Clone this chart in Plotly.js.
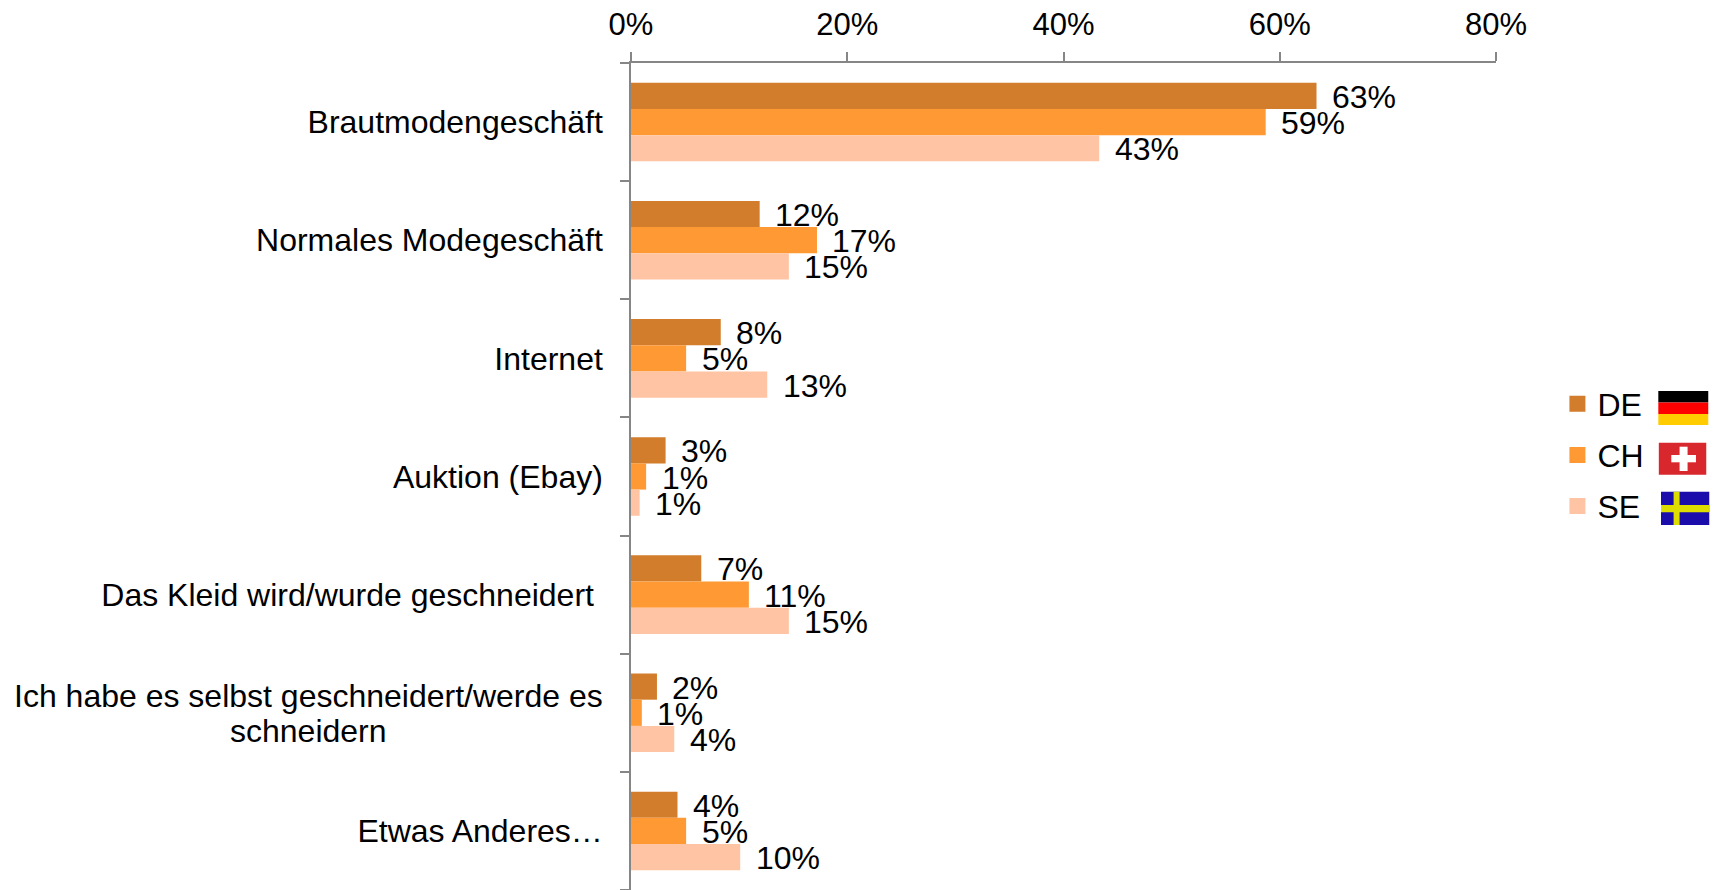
<!DOCTYPE html>
<html><head><meta charset="utf-8">
<script src="https://cdn.plot.ly/plotly-3.0.1.min.js"></script>
<style>html,body{margin:0;padding:0;background:#fff}</style></head><body>
<div id="c" style="width:1716px;height:890px"></div>
<script>
const categories=["Brautmodengeschäft","Normales Modegeschäft","Internet","Auktion (Ebay)","Das Kleid wird/wurde geschneidert","Ich habe es selbst geschneidert/werde es schneidern","Etwas Anderes…"];
const tickLabels=["Brautmodengeschäft","Normales Modegeschäft","Internet","Auktion (Ebay)","Das Kleid wird/wurde geschneidert\u00A0","\u00A0","Etwas Anderes…"];
const wrappedLines=["Ich habe es selbst geschneidert/werde es","schneidern"];
const de=[63.4,11.9,8.3,3.2,6.5,2.4,4.3];
const ch=[58.7,17.2,5.1,1.4,10.9,1.0,5.1];
const se=[43.3,14.6,12.6,0.8,14.6,4.0,10.1];
const deLabels=["63%","12%","8%","3%","7%","2%","4%"];
const chLabels=["59%","17%","5%","1%","11%","1%","5%"];
const seLabels=["43%","15%","13%","1%","15%","4%","10%"];
const seriesNames=["DE","CH","SE"];
const seriesColors=["#D27D2B","#FF9933","#FFC4A4"];
const seriesValues=[de,ch,se];
const seriesLabels=[deLabels,chLabels,seLabels];
const family="Liberation Sans, Arial, sans-serif";
const barWidth=0.2217;
const bars=seriesValues.map((x,i)=>({type:"bar",orientation:"h",name:seriesNames[i],y:categories,x,marker:{color:seriesColors[i]},width:barWidth,showlegend:false,hoverinfo:"x+name"}));
const keys=seriesNames.map((n,i)=>({type:"scatter",mode:"markers",name:n,x:[null],y:[null],legendgroup:n,marker:{symbol:"square",size:16,color:seriesColors[i]}}));
const W=1716,H=890,L=630.5,R=1496.5,T=63,B=890;
const px=v=>(v-L)/(R-L), py=v=>(B-v)/(B-T);
const annotations=[];
seriesValues.forEach((vals,s)=>vals.forEach((v,i)=>annotations.push({xref:"x",yref:"y",x:v,y:i+(s-1)*barWidth,text:seriesLabels[s][i],showarrow:false,xanchor:"left",yanchor:"middle",xshift:13.5,yshift:-1,font:{family,size:32,color:"#000"}})));
wrappedLines.forEach((t,k)=>annotations.push({xref:"paper",yref:"y",x:px(308),y:5,yshift:k?-18.5:16.5,text:t,showarrow:false,xanchor:"center",yanchor:"middle",font:{family,size:32,color:"#000"}}));
const rect=(x0,y0,x1,y1,c)=>({type:"rect",xref:"paper",yref:"paper",x0:px(x0+1),x1:px(x1+1),y0:py(y0),y1:py(y1),fillcolor:c,line:{width:0},layer:"above"});
const shapes=[
 rect(1658,391,1708,402.5,"#000000"),rect(1658,402.5,1708,414,"#FF0000"),rect(1658,414,1708,425,"#FFCC00"),
 rect(1658.5,442.7,1706,474.7,"#D9272E"),rect(1671,455,1695.7,462.3,"#FFFFFF"),rect(1679.3,446.7,1687.3,471,"#FFFFFF"),
 rect(1660.7,491.7,1709,525,"#1A0DAB"),rect(1660.7,505,1709,512.3,"#DDDD00"),rect(1673.3,491.7,1679.3,525,"#DDDD00")
];
Plotly.newPlot("c",bars.concat(keys),{
 width:W,height:H,margin:{l:L,r:W-R,t:T,b:0},
 paper_bgcolor:"#fff",plot_bgcolor:"#fff",barmode:"group",bargap:0.335,bargroupgap:0,showlegend:true,
 font:{family,size:32,color:"#000"},annotations,shapes,
 legend:{x:px(1558),xanchor:"left",y:py(455),yanchor:"middle",font:{family,size:32,color:"#000"},itemwidth:30,tracegroupgap:6.5,traceorder:"grouped",bgcolor:"rgba(0,0,0,0)",itemclick:false,itemdoubleclick:false},
 xaxis:{side:"top",range:[0,80],tickvals:[0,20,40,60,80],ticktext:["0%","20%","40%","60%","80%"],ticks:"outside",ticklen:9,tickwidth:1.5,tickcolor:"#868686",ticklabelstandoff:5,showgrid:false,zeroline:false,showline:true,linecolor:"#868686",linewidth:1.5,tickfont:{family,size:31,color:"#000"}},
 yaxis:{range:[6.5,-0.5],type:"category",categoryorder:"array",categoryarray:categories,tickmode:"array",tickvals:categories,ticktext:tickLabels,ticks:"outside",tickson:"boundaries",ticklen:9,tickwidth:1.5,tickcolor:"#868686",ticklabelstandoff:20,ticklabelshift:0,showgrid:false,zeroline:false,showline:true,linecolor:"#868686",linewidth:1.5,tickfont:{family,size:32,color:"#000"}}
},{displayModeBar:false});
</script></body></html>
